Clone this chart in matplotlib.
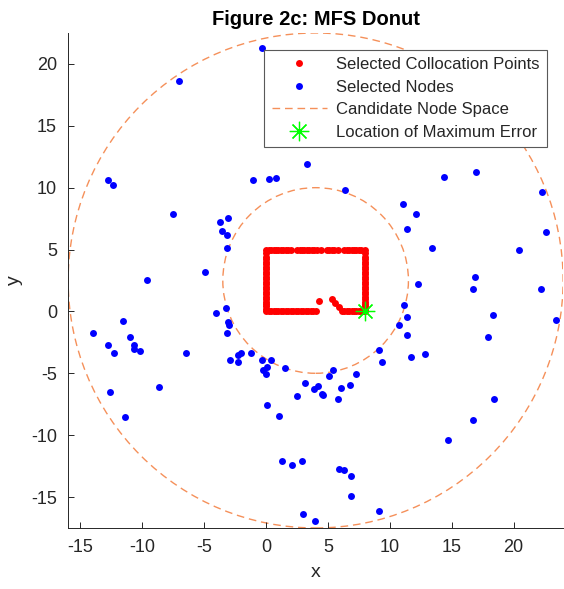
import matplotlib
matplotlib.use("Agg")
import matplotlib.pyplot as plt
from matplotlib.patches import Circle
from matplotlib.lines import Line2D

plt.rcParams['font.family'] = ['Liberation Sans', 'DejaVu Sans']
plt.rcParams['axes.unicode_minus'] = False

# selected collocation points (rectangle with a notch)
col_x = [0.0, 0.2, 0.4, 0.6, 0.8, 1.0, 1.2, 1.4, 1.6, 1.8, 2.0,
         2.5, 2.7, 2.9, 3.1, 3.3, 3.5, 3.7, 3.9, 4.1, 4.4,
         4.9, 5.1, 5.3, 5.5, 5.8, 6.3, 6.5, 6.7, 6.9, 7.1, 7.3, 7.5, 7.7, 8.0,
         0.0, 0.0, 0.0, 0.0, 0.0, 0.0, 0.0, 0.0, 0.0, 0.0, 0.0, 0.0,
         0.0, 0.0, 0.0, 0.0, 0.0, 0.0, 0.0, 0.0, 0.0, 0.0, 0.0, 0.0,
         8.0, 8.0, 8.0, 8.0, 8.0, 8.0, 8.0, 8.0, 8.0, 8.0, 8.0, 8.0,
         8.0, 8.0, 8.0, 8.0, 8.0, 8.0, 8.0, 8.0, 8.0, 8.0, 8.0, 8.0,
         0.2, 0.4, 0.6, 0.8, 1.0, 1.2, 1.4, 1.6, 1.8, 2.0, 2.2, 2.4,
         2.6, 2.8, 3.0, 3.2, 3.4, 3.6, 3.8, 4.0,
         4.3, 5.3, 5.6, 5.85,
         6.1, 6.3, 6.5, 6.7, 6.9, 7.1, 7.3, 7.5, 7.7, 7.85]
col_y = [5.0, 5.0, 5.0, 5.0, 5.0, 5.0, 5.0, 5.0, 5.0, 5.0, 5.0,
         5.0, 5.0, 5.0, 5.0, 5.0, 5.0, 5.0, 5.0, 5.0, 5.0,
         5.0, 5.0, 5.0, 5.0, 5.0, 5.0, 5.0, 5.0, 5.0, 5.0, 5.0, 5.0, 5.0, 5.0,
         0.0, 0.2, 0.4, 0.6, 0.8, 1.0, 1.2, 1.4, 1.6, 1.8, 2.0, 2.2,
         2.4, 2.6, 2.8, 3.0, 3.2, 3.4, 3.6, 3.8, 4.0, 4.2, 4.4, 4.7,
         0.0, 0.2, 0.4, 0.6, 0.8, 1.0, 1.2, 1.4, 1.6, 1.8, 2.0, 2.2,
         2.4, 2.6, 2.8, 3.0, 3.2, 3.4, 3.6, 3.8, 4.0, 4.2, 4.4, 4.7,
         0.0, 0.0, 0.0, 0.0, 0.0, 0.0, 0.0, 0.0, 0.0, 0.0, 0.0, 0.0,
         0.0, 0.0, 0.0, 0.0, 0.0, 0.0, 0.0, 0.0,
         0.85, 1.0, 0.67, 0.35,
         0.0, 0.0, 0.0, 0.0, 0.0, 0.0, 0.0, 0.0, 0.0, 0.0]

# selected nodes
node_x = [-0.3, -7.0, -12.8, -12.4, -1.1, 0.25, 0.8, 3.3, -7.55, -3.75,
          -3.1, -3.55, -3.15, -3.2, -4.95, -9.65,
          6.4, 14.4, 17.0, 22.3, 11.05, 12.15, 11.4, 22.6, 13.4, 20.4, 16.9,
          12.3, 16.7, 22.2, 11.15, 11.4, 18.3, 23.4, 10.7, 11.4, 17.95,
          9.1, 11.7, 12.8, 9.35, -1.25, -0.37, 0.43, -0.24, 0.1, -0.03,
          1.53, 5.43, 5.05, 7.3, 3.12, 6.75, 6.05, 4.17, 3.87, 4.5, 4.6,
          2.47, 5.78, 0.1, 1.05, 18.4, 16.75, 14.7, 1.26, 2.07, 2.9,
          5.86, 6.26, 6.85, 6.83, 9.1, 3.0, 3.95,
          -4.03, -3.23, -3.12, -2.96, -3.17, -14.0, -11.6, -12.8, -12.3,
          -11.0, -10.7, -10.7, -10.2, -6.5, -2.93, -2.28, -2.04, -2.28,
          -8.68, -12.6, -11.4]
node_y = [21.3, 18.6, 10.6, 10.2, 10.6, 10.7, 10.8, 11.9, 7.9, 7.25,
          7.55, 6.5, 6.2, 5.15, 3.2, 2.5,
          9.85, 10.9, 11.3, 9.65, 8.65, 7.85, 6.7, 6.4, 5.1, 5.0, 2.8,
          2.25, 1.85, 1.8, 0.5, -0.45, -0.25, -0.7, -1.1, -1.9, -2.05,
          -3.15, -3.7, -3.45, -4.1, -3.4, -3.9, -3.95, -4.75, -4.5, -5.05,
          -4.6, -4.7, -5.2, -5.05, -5.75, -5.95, -6.15, -6.0, -6.3, -6.65, -6.75,
          -6.8, -7.1, -7.6, -8.45, -7.05, -8.75, -10.4, -12.1, -12.4, -12.1,
          -12.75, -12.85, -13.3, -14.95, -16.1, -16.4, -16.95,
          -0.15, 0.27, -0.83, -1.1, -1.72, -1.75, -0.78, -2.7, -3.35,
          -2.07, -2.74, -3.0, -3.22, -3.33, -3.95, -3.5, -3.36, -4.06,
          -6.08, -6.48, -8.55]

# candidate node space (donut)
space_center = (4.0, 2.5)
space_radii = [7.5, 20.0]

# location of maximum error
max_err = (8.0, 0.0)

circ_color = '#F5905A'
dash = (0, (5.5, 3.5))
ms = 5.0

fig = plt.figure(figsize=(5.64, 5.89), dpi=100)
ax = fig.add_axes([0.1206, 0.1036, 0.878, 0.8404])

ax.plot(col_x, col_y, 'o', color='red', markersize=ms, markeredgewidth=0)
ax.plot(node_x, node_y, 'o', color='blue', markersize=ms, markeredgewidth=0)
for r in space_radii:
    ax.add_patch(Circle(space_center, r, fill=False, edgecolor=circ_color,
                        linewidth=1.0, linestyle=dash))
ax.plot(max_err[0], max_err[1], marker=(8, 2, 0), color='lime',
        markersize=14, markeredgewidth=0.9, linestyle='none')

ax.set_xlim(-16, 24)
ax.set_ylim(-17.5, 22.5)
ax.set_aspect('equal')
ax.set_xticks([-15, -10, -5, 0, 5, 10, 15, 20])
ax.set_yticks([-15, -10, -5, 0, 5, 10, 15, 20])

for s in ['top', 'right']:
    ax.spines[s].set_visible(False)
for s in ['left', 'bottom']:
    ax.spines[s].set_color('0.15')
    ax.spines[s].set_linewidth(0.7)
ax.tick_params(direction='in', length=4, width=0.7, color='0.15',
               labelcolor='0.15', labelsize=13, pad=8)

ax.set_xlabel('x', fontsize=14, color='0.15', labelpad=6)
ax.set_ylabel('y', fontsize=14, color='0.15', labelpad=6)
ax.set_title('Figure 2c: MFS Donut', fontsize=14.5, fontweight='bold', pad=6)

handles = [
    Line2D([], [], marker='o', color='red', linestyle='none', markersize=ms, markeredgewidth=0),
    Line2D([], [], marker='o', color='blue', linestyle='none', markersize=ms, markeredgewidth=0),
    Line2D([], [], color=circ_color, linewidth=1.0, linestyle=dash),
    Line2D([], [], marker=(8, 2, 0), color='lime', linestyle='none', markersize=14, markeredgewidth=0.9),
]
labels = ['Selected Collocation Points', 'Selected Nodes',
          'Candidate Node Space', 'Location of Maximum Error']
leg = ax.legend(handles, labels, loc='upper right', bbox_to_anchor=(0.967, 0.966),
                borderaxespad=0, fontsize=12, fancybox=False, framealpha=1,
                edgecolor='0.35', handlelength=3.3, handletextpad=0.55,
                borderpad=0.45, labelspacing=0.45)
leg.get_frame().set_linewidth(0.8)
for t in leg.get_texts():
    t.set_color('0.15')

fig.savefig('out.png', dpi=100)
